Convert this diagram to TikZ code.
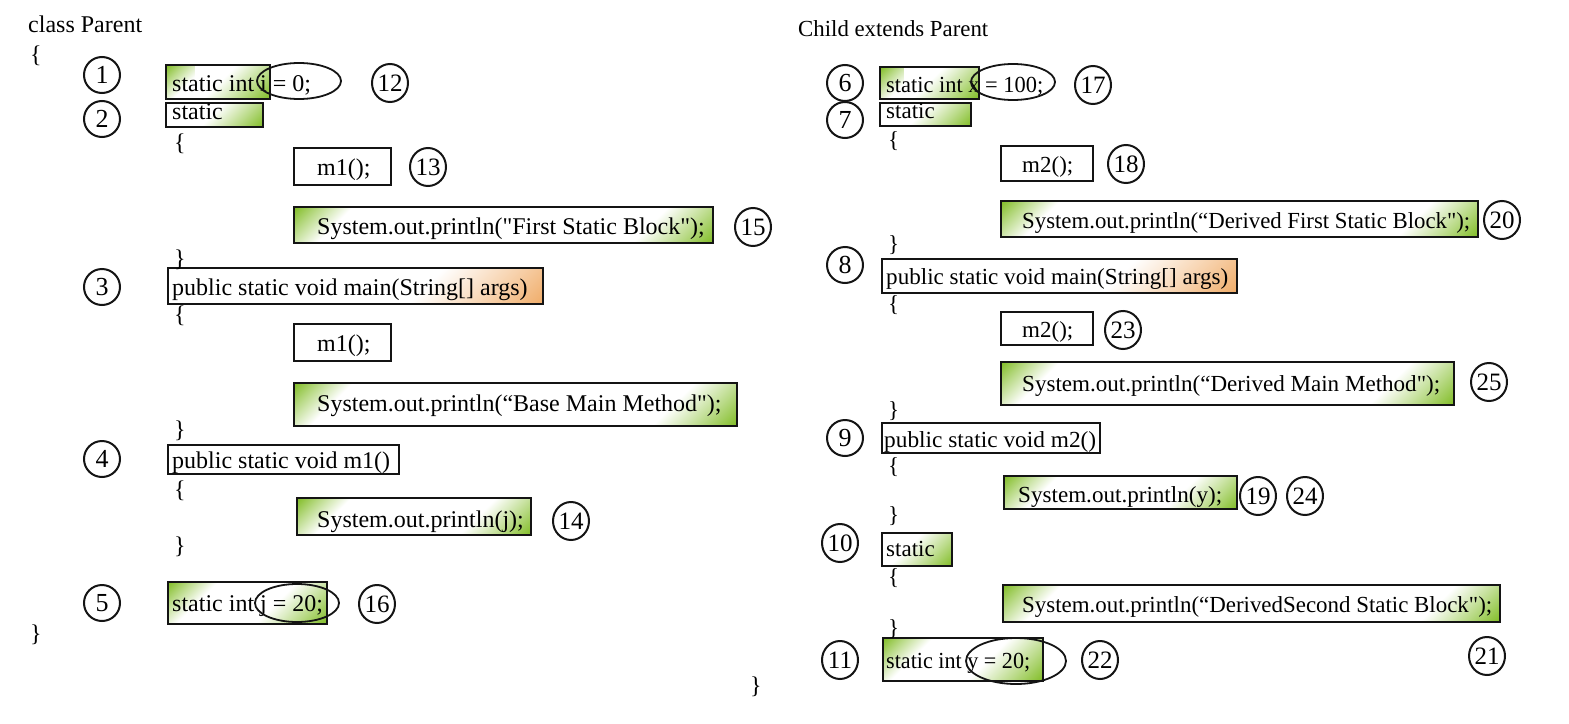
\documentclass[tikz,border=0pt]{standalone}
\usepackage{fontspec}
\usepackage{graphicx}
\setmainfont{Liberation Serif}
\usetikzlibrary{shapes.geometric}
\definecolor{gr}{RGB}{128,188,36}
\definecolor{orng}{RGB}{240,172,104}
\definecolor{edge}{RGB}{20,20,20}
\pgfdeclarehorizontalshading{cg}{100bp}{color(0bp)=(gr); color(50bp)=(gr); color(57bp)=(gr!55!white); color(66bp)=(white); color(100bp)=(white)}
\pgfdeclarehorizontalshading{co}{100bp}{color(0bp)=(orng); color(50bp)=(orng); color(57bp)=(orng!55!white); color(66bp)=(white); color(100bp)=(white)}
% name, x1, y1, x2, y2, top-left extent, bottom-right extent, shading of the corners
\newcommand\gb[8]{%
  \begin{scope}
    \clip (#2,#3) rectangle (#4,#5);
    \fill[white] (#2,#3) rectangle (#4,#5);
    \ifdim #6pt>0pt \shade[shading=#8, shading angle=-45] ({#2-#6},{#3-#6}) rectangle ({#2+#6},{#3+#6});\fi
    \ifdim #7pt>0pt \shade[shading=#8, shading angle=135] ({#4-#7},{#5-#7}) rectangle ({#4+#7},{#5+#7});\fi
  \end{scope}
  \node[bx, minimum width={(#4-#2)*1pt}, minimum height={(#5-#3)*1pt}] (#1) at (#2,#3) {};}
\newcommand\wb[5]{\node[bx, fill=white, minimum width={(#4-#2)*1pt}, minimum height={(#5-#3)*1pt}] (#1) at (#2,#3) {};}
% right-hand code line fitted to a width: name, x, y, width, text
\newcommand\rt[5]{\node[rcode] (#1) at (#2,#3) {\resizebox{#4pt}{\height}{#5}};}
\tikzset{
  bx/.style={draw=edge, line width=1.4pt, inner sep=0pt, outer sep=0pt, anchor=north west},
  code/.style={anchor=base west, inner sep=0pt, font=\fontsize{24}{24}\selectfont},
  rcode/.style={anchor=base west, inner sep=0pt, font=\fontsize{23}{23}\selectfont},
  num/.style={draw=edge, circle, line width=2pt, inner sep=0pt, minimum size=36pt, font=\fontsize{26}{26}\selectfont},
  numw/.style={draw=edge, ellipse, line width=2pt, inner sep=0pt, minimum width=36pt, minimum height=38pt, font=\fontsize{25}{25}\selectfont},
  oval/.style={draw=edge, ellipse, line width=1.8pt, inner sep=0pt}
}
\begin{document}
\begin{tikzpicture}[x=1pt, y=-1pt]
\useasboundingbox[fill=white] (0,0) rectangle (1569,723);
% ---------------- left: class Parent ----------------
\node[code] (tParent) at (28,32) {class Parent};
\node[code] (lbo) at (30,62) {\{};
\gb{b1}{166}{65}{270}{99}{45}{75}{cg}
\gb{b2}{166}{103}{263}{127}{0}{70}{cg}
\wb{b13}{294}{148}{391}{185}
\gb{b15}{294}{207}{713}{243}{65}{90}{cg}
\gb{b3}{168}{268}{543}{304}{0}{150}{co}
\wb{bm1}{294}{324}{391}{361}
\gb{bbase}{294}{383}{737}{426}{65}{95}{cg}
\wb{b4}{168}{445}{399}{474}
\gb{b14}{297}{498}{531}{535}{60}{80}{cg}
\gb{b5}{168}{582}{327}{624}{55}{80}{cg}
\node[code] (t1) at (172,91) {static int i = 0;};
\node[code] (t2) at (172,119) {static};
\node[code] (o2) at (174,150) {\{};
\node[code] (t13) at (317,175) {m1();};
\node[code] (t15) at (317,234) {System.out.println(\textquotedbl First Static Block\textquotedbl);};
\node[code] (c2) at (174,266) {\}};
\node[code] (t3) at (172,295) {public static void main(String[] args)};
\node[code] (o3) at (174,322) {\{};
\node[code] (tm1) at (317,351) {m1();};
\node[code] (tbase) at (317,411) {System.out.println(“Base Main Method\textquotedbl);};
\node[code] (c3) at (174,437) {\}};
\node[code] (t4) at (172,468) {public static void m1()};
\node[code] (o4) at (174,497) {\{};
\node[code] (t14) at (317,527) {System.out.println(j);};
\node[code] (c4) at (174,553) {\}};
\node[code] (t5) at (172,611) {static int j = 20;};
\node[code] (lbc) at (30,641) {\}};
\node[oval, minimum width=84pt, minimum height=36pt] (e1) at (299,81) {};
\node[oval, minimum width=84pt, minimum height=38pt] (e5) at (297,603) {};
\node[num] (n1) at (102,75) {1};
\node[num] (n2) at (102,119) {2};
\node[num] (n3) at (102,287) {3};
\node[num] (n4) at (102,459) {4};
\node[num] (n5) at (102,603) {5};
\node[numw] (n12) at (390,83) {12};
\node[numw] (n13) at (428,167) {13};
\node[numw] (n15) at (753,227) {15};
\node[numw] (n14) at (571,521) {14};
\node[numw] (n16) at (377,604) {16};
% ---------------- right: Child extends Parent ----------------
\rt{tChild}{798}{36}{190}{Child extends Parent}
\gb{b6}{880}{67}{979}{99}{45}{75}{cg}
\gb{b7}{880}{103}{971}{126}{0}{70}{cg}
\wb{b18}{1001}{146}{1093}{181}
\gb{b20}{1001}{201}{1478}{237}{65}{90}{cg}
\gb{b8}{882}{259}{1237}{293}{0}{150}{co}
\wb{bm2}{1001}{312}{1093}{345}
\gb{b25}{1001}{362}{1454}{405}{65}{95}{cg}
\wb{b9}{882}{423}{1100}{453}
\gb{b19}{1004}{476}{1237}{509}{60}{80}{cg}
\gb{b10}{882}{533}{952}{566}{0}{70}{cg}
\gb{b21}{1003}{585}{1500}{622}{65}{90}{cg}
\gb{b11}{883}{638}{1043}{681}{55}{85}{cg}
\rt{t6}{886}{92}{157}{static int x = 100;}
\node[rcode] (t7) at (886,118) {static};
\node[rcode] (o7) at (888,147) {\{};
\node[rcode] (t18) at (1022,172) {m2();};
\rt{t20}{1022}{228}{448}{System.out.println(“Derived First Static Block\textquotedbl);}
\node[rcode] (c7) at (888,251) {\}};
\rt{t8}{886}{284}{342}{public static void main(String[] args)}
\node[rcode] (o8) at (888,311) {\{};
\node[rcode] (tm2) at (1022,337) {m2();};
\rt{t25}{1022}{391}{418}{System.out.println(“Derived Main Method\textquotedbl);}
\node[rcode] (c8) at (888,417) {\}};
\rt{t9}{884}{447}{212}{public static void m2()}
\node[rcode] (o9) at (888,473) {\{};
\rt{t19}{1018}{502}{204}{System.out.println(y);}
\node[rcode] (c9) at (888,522) {\}};
\node[rcode] (t10) at (886,556) {static};
\node[rcode] (o10) at (888,584) {\{};
\rt{t21}{1022}{612}{470}{System.out.println(“DerivedSecond Static Block\textquotedbl);}
\node[rcode] (c10) at (888,635) {\}};
\rt{t11}{886}{668}{144}{static int y = 20;}
\node[code] (rbc) at (750,693) {\}};
\node[oval, minimum width=84pt, minimum height=36pt] (e6) at (1013,82) {};
\node[oval, minimum width=100pt, minimum height=46pt] (e11) at (1016,661) {};
\node[num] (n6) at (845,83) {6};
\node[num] (n7) at (845,120) {7};
\node[num] (n8) at (845,265) {8};
\node[num] (n9) at (845,438) {9};
\node[numw] (n10) at (840,543) {10};
\node[numw] (n11) at (840,660) {11};
\node[numw] (n17) at (1093,85) {17};
\node[numw] (n18) at (1126,164) {18};
\node[numw] (n20) at (1502,220) {20};
\node[numw] (n23) at (1123,330) {23};
\node[numw] (n25) at (1489,382) {25};
\node[numw] (n19) at (1258,496) {19};
\node[numw] (n24) at (1305,496) {24};
\node[numw] (n22) at (1100,660) {22};
\node[numw] (n21) at (1487,656) {21};
\end{tikzpicture}
\end{document}
